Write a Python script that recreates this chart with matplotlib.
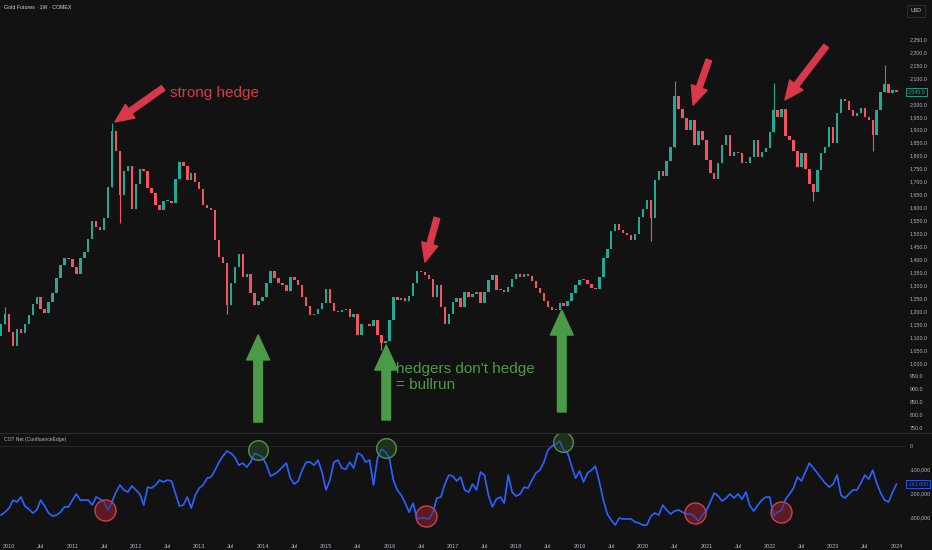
import numpy as np
import matplotlib.pyplot as plt
from matplotlib.ticker import FuncFormatter

bg = '#121212'
up_col = '#22ab94'
down_col = '#f7525f'
txt_col = '#b2b5be'
cot_col = '#2962ff'
hedge_red = '#d8384a'
hedge_green = '#4b9a48'
small_font = 'Liberation Sans'

# weekly gold, sampled every 1/16 year from late 2009
start_year = 2009.875
step = 1.0 / 16
first_open = 1105

closes = [1150, 1190, 1120, 1065, 1130, 1115, 1150, 1185, 1230, 1255,
          1210, 1195, 1235, 1270, 1330, 1380, 1405, 1400, 1370, 1345,
          1405, 1430, 1480, 1550, 1525, 1515, 1560, 1680, 1895, 1820,
          1650, 1740, 1760, 1595, 1690, 1750, 1740, 1675, 1656, 1610,
          1590, 1625, 1625, 1618, 1710, 1775, 1760, 1706, 1733, 1700,
          1670, 1610, 1600, 1590, 1475, 1410, 1386, 1225, 1310, 1370,
          1420, 1332, 1345, 1271, 1225, 1240, 1255, 1310, 1355, 1330,
          1309, 1300, 1280, 1332, 1321, 1300, 1255, 1222, 1185, 1190,
          1210, 1232, 1285, 1232, 1200, 1198, 1207, 1210, 1178, 1190,
          1110, 1150, 1150, 1142, 1167, 1110, 1078, 1085, 1167, 1255,
          1245, 1250, 1240, 1260, 1310, 1355, 1350, 1340, 1325, 1255,
          1300, 1217, 1150, 1190, 1235, 1250, 1217, 1275, 1255, 1265,
          1275, 1232, 1275, 1320, 1340, 1282, 1282, 1275, 1295, 1325,
          1345, 1332, 1345, 1338, 1315, 1290, 1271, 1240, 1215, 1205,
          1205, 1232, 1220, 1240, 1270, 1300, 1321, 1321, 1305, 1290,
          1285, 1332, 1405, 1440, 1510, 1535, 1515, 1502, 1495, 1475,
          1500, 1565, 1595, 1630, 1560, 1705, 1740, 1720, 1780, 1834,
          2030, 1980, 1945, 1900, 1938, 1840, 1895, 1860, 1783, 1733,
          1710, 1770, 1840, 1880, 1800, 1815, 1810, 1772, 1772, 1795,
          1860, 1795, 1815, 1830, 1890, 1975, 1950, 1980, 1875, 1860,
          1820, 1756, 1810, 1750, 1690, 1660, 1745, 1810, 1834, 1910,
          1850, 1965, 2020, 2010, 1975, 1955, 1965, 1985, 1950, 1938,
          1880, 1975, 2045, 2075, 2042, 2053, 2045]

# long wicks that stick out of the bodies
spike_idx = [1, 28, 30, 57, 96, 164, 170, 195, 205, 220, 223]
spike_price = [1215, 1925, 1540, 1190, 1050, 1470, 2090, 2080, 1625, 1820, 2150]

# commercials net position, thousands of contracts
cot_net = [-292, -280, -263, -229, -237, -216, -254, -267, -284, -271,
           -229, -254, -284, -297, -292, -280, -258, -258, -229, -203,
           -229, -229, -229, -250, -216, -225, -237, -271, -237, -195,
           -165, -186, -195, -169, -186, -203, -250, -174, -178, -165,
           -144, -152, -144, -148, -199, -254, -250, -216, -263, -208,
           -178, -165, -136, -131, -102, -68, -42, -21, -30, -47,
           -81, -72, -89, -68, -30, -38, -47, -81, -127, -119,
           -106, -89, -72, -136, -161, -148, -102, -68, -68, -81,
           -59, -110, -186, -144, -68, -59, -93, -98, -68, -93,
           -30, -38, -68, -59, -165, -51, -13, -25, -51, -144,
           -186, -208, -242, -280, -242, -309, -305, -305, -309, -280,
           -220, -216, -161, -123, -127, -148, -131, -186, -195, -161,
           -186, -110, -123, -208, -258, -225, -216, -242, -123, -195,
           -212, -203, -174, -178, -144, -114, -102, -68, -17, 0,
           8, 21, -17, -30, -85, -136, -106, -152, -114, -102,
           -85, -152, -229, -288, -314, -335, -305, -309, -309, -309,
           -322, -326, -335, -335, -297, -284, -292, -250, -271, -288,
           -275, -271, -280, -288, -288, -297, -318, -292, -275, -237,
           -199, -212, -233, -220, -203, -220, -203, -225, -195, -254,
           -275, -250, -229, -216, -216, -297, -280, -271, -225, -203,
           -178, -131, -148, -110, -72, -93, -114, -136, -157, -174,
           -161, -123, -208, -220, -203, -186, -186, -157, -123, -140,
           -102, -157, -199, -229, -237, -195, -161]

# marked extremes on the COT panel (year, thousands)
red_marks_t = [2011.51, 2016.58, 2020.82, 2022.18]
red_marks_v = [-271, -297, -284, -280]
green_marks_t = [2013.93, 2015.95, 2018.74]
green_marks_v = [-17, -8, 17]

year_ticks = list(range(2010, 2025))

t = start_year + np.arange(len(closes)) * step
closes = np.array(closes, dtype=float)
opens = np.concatenate([[first_open], closes[:-1]])
cot = np.array(cot_net) * 1000.0
x_lo, x_hi = 2009.858, 2024.148

fig = plt.figure(figsize=(9.32, 5.5), dpi=100, facecolor=bg)
ax = fig.add_axes([0, 0.2145, 0.972, 0.7855], facecolor=bg)
ax2 = fig.add_axes([0, 0.0345, 0.972, 0.178], facecolor=bg, sharex=ax)

# candles
rising = closes >= opens
cols = np.where(rising, up_col, down_col)
body_lo = np.minimum(opens, closes)
body_h = np.maximum(np.abs(closes - opens), 3)
ax.bar(t, body_h, bottom=body_lo, width=step * 0.62, color=cols, linewidth=0)
for i, p in zip(spike_idx, spike_price):
    lo = min(body_lo[i], p)
    hi = max(body_lo[i] + body_h[i], p)
    ax.vlines(t[i], lo, hi, color=cols[i], lw=0.8)

ax.set_ylim(734.6, 2400.4)
ax.yaxis.tick_right()
ax.set_yticks(np.arange(750, 2251, 50))
ax.yaxis.set_major_formatter(FuncFormatter(lambda v, p: f'{v:,.1f}'))
ax.tick_params(axis='y', labelsize=3.8, colors=txt_col, length=0, pad=2.5)
ax.tick_params(axis='x', bottom=False, labelbottom=False)
for lab in ax.get_yticklabels():
    lab.set_family(small_font)
for s in ax.spines.values():
    s.set_visible(False)

# last price tag
ax.annotate(f'{closes[-1]:,.1f}', xy=(1.002, closes[-1]), xycoords=('axes fraction', 'data'),
            fontsize=3.8, family=small_font, color=up_col, va='center', ha='left',
            bbox=dict(boxstyle='square,pad=0.3', fc=bg, ec=up_col, lw=0.6))

# COT panel
ax2.axhline(0, color='#262626', lw=0.7)
ax2.plot(t, cot, color=cot_col, lw=1.1)
ax2.scatter(red_marks_t, np.array(red_marks_v) * 1000.0, s=230, facecolor='#6a1c26', edgecolor='#e5485a',
            lw=1.0, alpha=0.85, zorder=3)
ax2.scatter(green_marks_t, np.array(green_marks_v) * 1000.0, s=200, facecolor='#24401f', edgecolor='#6fbf63',
            lw=1.0, alpha=0.7, zorder=3)
ax2.plot(t, cot, color=cot_col, lw=1.1, alpha=0.55, zorder=4)
ax2.set_ylim(-360000, 55000)
ax2.yaxis.tick_right()
ax2.set_yticks([0, -100000, -200000, -300000])
ax2.yaxis.set_major_formatter(FuncFormatter(lambda v, p: f'{v:,.0f}'))
ax2.tick_params(axis='y', labelsize=3.8, colors=txt_col, length=0, pad=2.5)
for s in ax2.spines.values():
    s.set_visible(False)
ax2.annotate(f'{cot[-1]:,.0f}', xy=(1.002, cot[-1]), xycoords=('axes fraction', 'data'),
             fontsize=3.8, family=small_font, color=cot_col, va='center', ha='left',
             bbox=dict(boxstyle='square,pad=0.3', fc=bg, ec=cot_col, lw=0.6))

xt = []
xl = []
for y in year_ticks:
    xt.append(y)
    xl.append(str(y))
    if y + 0.5 < x_hi:
        xt.append(y + 0.5)
        xl.append('Jul')
ax2.set_xticks(xt)
ax2.set_xticklabels(xl)
ax2.tick_params(axis='x', labelsize=4.0, colors=txt_col, length=0, pad=9)
for lab in ax2.get_xticklabels() + ax2.get_yticklabels():
    lab.set_family(small_font)
ax.set_xlim(x_lo, x_hi)

# panel separator
fig.add_artist(plt.Line2D([0, 1], [0.2136, 0.2136], transform=fig.transFigure, color='#2b2b2b', lw=0.8))

# annotations
red_arrows = [((2011.67, 1930), (2012.43, 2061)),
              ((2016.56, 1390), (2016.75, 1560)),
              ((2020.79, 1995), (2021.04, 2169)),
              ((2022.24, 2015), (2022.89, 2223))]
for tip, tail in red_arrows:
    ax.annotate('', xy=tip, xytext=tail,
                arrowprops=dict(arrowstyle='simple,head_width=1.2,head_length=1.35,tail_width=0.42',
                                color=hedge_red, shrinkA=0, shrinkB=0))
green_arrows = [((2013.93, 1109), (2013.93, 773)),
                ((2015.95, 1070), (2015.95, 781)),
                ((2018.72, 1205), (2018.72, 812))]
for tip, tail in green_arrows:
    ax.annotate('', xy=tip, xytext=tail,
                arrowprops=dict(arrowstyle='simple,head_width=1.65,head_length=1.8,tail_width=0.62',
                                color=hedge_green, shrinkA=0, shrinkB=0))

ax.text(2012.54, 2042, 'strong hedge', color=hedge_red, fontsize=11, family='Liberation Sans',
        va='center', ha='left')
ax.text(2016.10, 1003, "hedgers don't hedge\n= bullrun", color=hedge_green, fontsize=11,
        family='Liberation Sans', va='top', ha='left', linespacing=1.15)

fig.text(0.004, 0.991, 'Gold Futures · 1W · COMEX', fontsize=3.8, family=small_font, color='#d1d4dc',
         va='top', ha='left')
fig.text(0.004, 0.201, 'COT Net (ConfluenceEdge)', fontsize=3.6, family=small_font, color=txt_col,
         va='center', ha='left')
fig.text(0.977, 0.985, 'USD', fontsize=3.8, family=small_font, color='#d1d4dc', va='top', ha='left',
         bbox=dict(boxstyle='square,pad=0.7', fc=bg, ec='#333333', lw=0.6))

fig.savefig('out.png', dpi=100, facecolor=bg)
